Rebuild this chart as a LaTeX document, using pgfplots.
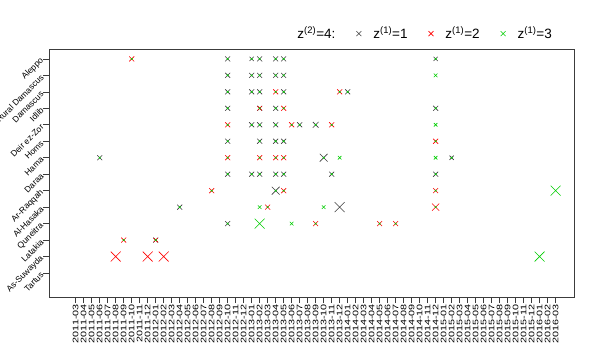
\documentclass[border=0pt]{standalone}
\usepackage{pgfplots}
\usepackage{pgfplotstable}
\pgfplotsset{compat=1.18}
\usepackage{fontspec}
\setmainfont{Liberation Sans}
\newfontfamily\tickfont[FakeStretch=1.35]{Liberation Sans}
\definecolor{rred}{RGB}{255,0,0}
\definecolor{rgreen}{RGB}{0,205,0}
\definecolor{rblack}{RGB}{60,60,60}
\definecolor{axgray}{RGB}{60,60,60}

% z(1)=1 (black)
\pgfplotstableread{
x y s
19 14 3.5
22 14 3
23 14 3.5
25 14 3.5
26 14 3.5
45 14 3
19 13 3.5
22 13 3.5
23 13 3.5
25 13 3.5
26 13 3.5
19 12 3.5
22 12 3.5
23 12 3.5
26 12 3.5
34 12 3.5
19 11 3.5
23 11 3.5
25 11 3.5
45 11 3.5
22 10 3.5
23 10 3.5
25 10 3.5
28 10 3.5
30 10 4
19 9 3.5
23 9 3.5
25 9 3.5
26 9 3.5
3 8 3.5
31 8 5.5
47 8 3
19 7 3.5
22 7 3.5
23 7 3.5
25 7 3.5
26 7 3.5
32 7 3.5
45 7 3.5
25 6 5.5
13 5 3.5
33 5 7
19 4 3.5
10 3 3.5
}\blacks

% z(1)=2 (red)
\pgfplotstableread{
x y s
7 14 3.5
25 12 3.5
33 12 3.5
23 11 3
26 11 3.5
19 10 3.5
27 10 3.5
32 10 3.5
45 9 3.5
19 8 3.5
23 8 3.5
25 8 3.5
26 8 3.5
17 6 3.5
26 6 3.5
45 6 3.5
24 5 3.5
45 5 5
30 4 3.5
38 4 3.5
40 4 3.5
6 3 3.5
10 3 3
5 2 7
9 2 7
11 2 7
}\reds

% z(1)=3 (green)
\pgfplotstableread{
x y s
7 14 1.1
19 14 1.1
22 14 1.1
23 14 1.1
25 14 1.1
26 14 1.1
45 14 1.1
19 13 1.1
22 13 1.1
23 13 1.1
25 13 1.1
26 13 1.1
45 13 2.5
19 12 1.1
22 12 1.1
23 12 1.1
25 12 1.1
26 12 1.1
33 12 1.1
34 12 1.1
19 11 1.1
23 11 1.1
25 11 1.1
26 11 1.1
45 11 1.1
19 10 1.1
22 10 1.1
23 10 1.1
25 10 1.1
27 10 1.1
28 10 1.1
30 10 1.1
32 10 1.1
45 10 2.5
19 9 1.1
23 9 1.1
25 9 1.1
26 9 1.1
45 9 1.1
3 8 1.1
19 8 1.1
23 8 1.1
25 8 1.1
26 8 1.1
31 8 1.1
47 8 1.1
33 8 2.5
45 8 2.5
19 7 1.1
22 7 1.1
23 7 1.1
25 7 1.1
26 7 1.1
32 7 1.1
45 7 1.1
17 6 1.1
25 6 1.1
26 6 1.1
45 6 1.1
60 6 7
13 5 1.1
24 5 1.1
45 5 1.1
23 5 2.5
31 5 2.5
19 4 1.1
30 4 1.1
38 4 1.1
40 4 1.1
27 4 2.5
23 4 7
6 3 1.1
10 3 1.1
58 2 7
}\greens

\pgfplotsset{
  sizedmarks/.style={
    only marks, mark=x, line width=0.6bp, forget plot,
    scatter,
    scatter/use mapped color={draw=#1, fill=#1},
    visualization depends on={\thisrow{s} \as \perpointmarksize},
    scatter/@pre marker code/.append style={/tikz/mark size=\perpointmarksize bp},
  },
}

\begin{document}
\begin{tikzpicture}
\useasboundingbox (0,0) rectangle (600bp,360bp);
\begin{axis}[
  at={(49bp,63bp)}, anchor=south west,
  scale only axis, width=525bp, height=248bp,
  xmin=-3.34, xmax=62.3, ymin=-0.455, ymax=14.6,
  axis line style={axgray, line width=0.8bp},
  tick style={axgray, line width=0.6bp},
  tick align=outside, major tick length=6bp,
  xtick pos=bottom, ytick pos=left,
  xtick={0,...,60},
  xticklabels={2011-03,2011-04,2011-05,2011-06,2011-07,2011-08,2011-09,2011-10,2011-11,2011-12,
    2012-01,2012-02,2012-03,2012-04,2012-05,2012-06,2012-07,2012-08,2012-09,2012-10,2012-11,2012-12,
    2013-01,2013-02,2013-03,2013-04,2013-05,2013-06,2013-07,2013-08,2013-09,2013-10,2013-11,2013-12,
    2014-01,2014-02,2014-03,2014-04,2014-05,2014-06,2014-07,2014-08,2014-09,2014-10,2014-11,2014-12,
    2015-01,2015-02,2015-03,2015-04,2015-05,2015-06,2015-07,2015-08,2015-09,2015-10,2015-11,2015-12,
    2016-01,2016-02,2016-03},
  xticklabel style={rotate=90, anchor=east, inner sep=1bp, font=\tickfont\fontsize{8bp}{9bp}\selectfont},
  ytick={1,...,14},
  yticklabels={Tartus,As-Suwayda,Latakia,Quneitra,Al-Hasaka,Ar-Raqqah,Daraa,Hama,Homs,Deir ez-Zor,Idlib,Damascus,Rural Damascus,Aleppo},
  yticklabel style={rotate=45, anchor=east, inner sep=1bp, font=\fontsize{8.5bp}{10bp}\selectfont},
  legend columns=-1,
  legend style={draw=none, fill=none, at={(0.706,1.062)}, anchor=center,
    font=\fontsize{13.5bp}{15bp}\selectfont, inner sep=0pt,
    /tikz/every odd column/.append style={column sep=10bp},
    /tikz/every even column/.append style={column sep=19bp}},
]
\addplot[sizedmarks=rblack] table[x=x, y=y] {\blacks};
\addplot[sizedmarks=rred] table[x=x, y=y] {\reds};
\addplot[sizedmarks=rgreen] table[x=x, y=y] {\greens};
\addlegendimage{empty legend}
\addlegendentry{z\textsuperscript{(2)}=4:}
\addlegendimage{legend image code/.code={\draw[rblack, line width=0.6bp] plot[only marks, mark=x, mark size=3.5bp] coordinates {(0cm,0cm)};}}
\addlegendentry{z\textsuperscript{(1)}=1}
\addlegendimage{legend image code/.code={\draw[rred, line width=0.6bp] plot[only marks, mark=x, mark size=3.5bp] coordinates {(0cm,0cm)};}}
\addlegendentry{z\textsuperscript{(1)}=2}
\addlegendimage{legend image code/.code={\draw[rgreen, line width=0.6bp] plot[only marks, mark=x, mark size=3.5bp] coordinates {(0cm,0cm)};}}
\addlegendentry{z\textsuperscript{(1)}=3}
\end{axis}
\end{tikzpicture}
\end{document}
